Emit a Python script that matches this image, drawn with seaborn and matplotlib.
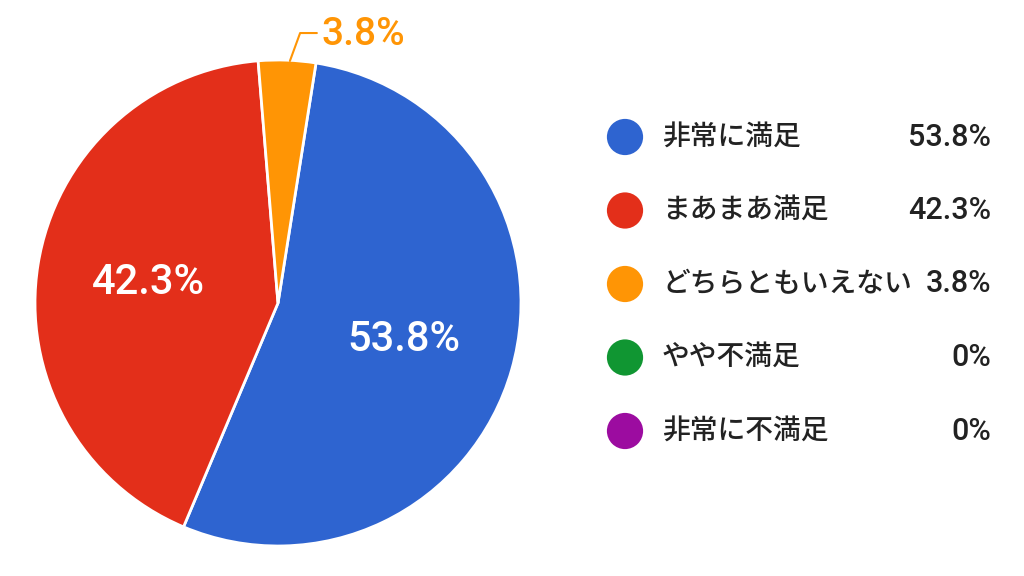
import matplotlib
matplotlib.use("Agg")
import numpy as np
import matplotlib.pyplot as plt
import seaborn as sns

# 回答データ
categories = ["非常に満足", "まあまあ満足", "どちらともいえない", "やや不満足", "非常に不満足"]
shares = [53.8, 42.3, 3.8, 0.0, 0.0]
share_labels = ["53.8%", "42.3%", "3.8%", "0%", "0%"]
colors = ["#2E64D0", "#E32F1A", "#FF9505", "#109632", "#9C0CA0"]

sns.set_theme(style="white")
plt.rcParams["font.family"] = ["Roboto", "Noto Sans CJK JP", "DejaVu Sans"]

W, H = 1024, 576
fig = plt.figure(figsize=(W / 100, H / 100), dpi=100)
fig.patch.set_facecolor("white")

# 円グラフ (中心 278,303 px / 半径 243 px)
cx, cy, r = 278, 303, 243
ax = fig.add_axes([(cx - r) / W, (H - cy - r) / H, 2 * r / W, 2 * r / H])

nz = [i for i, v in enumerate(shares) if v > 0]
pie_labels = iter([share_labels[i] for i in nz])
wedges, texts, autotexts = ax.pie(
    [shares[i] for i in nz],
    colors=[colors[i] for i in nz],
    startangle=81,
    counterclock=False,
    radius=1,
    autopct=lambda p: next(pie_labels),
    pctdistance=0.54,
    wedgeprops=dict(edgecolor="white", linewidth=2),
    textprops=dict(color="white", fontsize=30, fontweight="medium"),
)
ax.set_xlim(-1, 1)
ax.set_ylim(-1, 1)
ax.set_aspect("equal")
ax.axis("off")

# 小さいスライスのラベルは外側へ
small = autotexts[nz.index(2)]
small.set_visible(False)
ax.plot([0.049, 0.091, 0.160], [0.996, 1.111, 1.111], color=colors[2], lw=1.5,
        clip_on=False)
ax.text(0.178, 1.103, share_labels[2], color=colors[2], fontsize=28,
        fontweight="medium", ha="left", va="center", clip_on=False)

# 凡例
lg = fig.add_axes([0, 0, 1, 1])
lg.patch.set_alpha(0)

row_y = 137 + 73.5 * np.arange(len(categories))
sns.scatterplot(x=[625] * len(categories), y=row_y, hue=categories,
                palette=colors, s=680, linewidth=0, legend=False, ax=lg)
for y, name, lab in zip(row_y, categories, share_labels):
    lg.text(662, y, name, fontsize=20, color="#222222", fontweight="medium",
            ha="left", va="center")
    lg.text(991, y, lab, fontsize=22, color="#222222", fontweight="medium",
            ha="right", va="center")
lg.set_xlim(0, W)
lg.set_ylim(H, 0)
lg.axis("off")

fig.savefig("out.png", dpi=100, facecolor="white")
